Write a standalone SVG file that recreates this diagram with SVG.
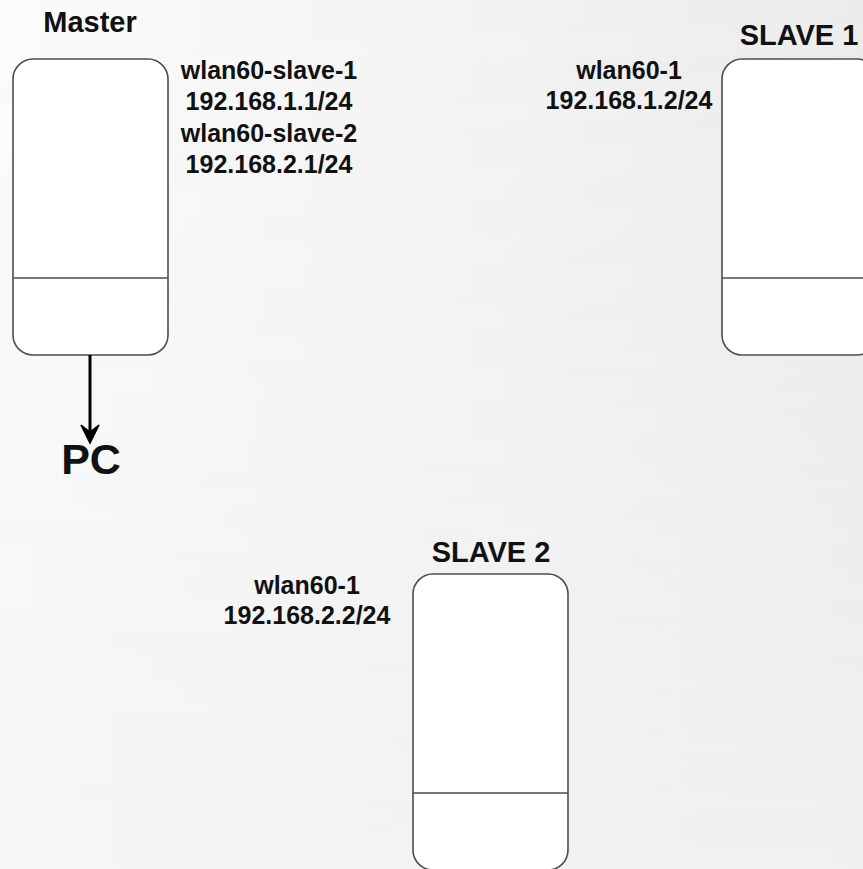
<svg xmlns="http://www.w3.org/2000/svg" width="863" height="869" viewBox="0 0 863 869">
<defs>
<linearGradient id="bgBottom" x1="0" y1="0" x2="1" y2="0">
<stop offset="0" stop-color="#f6f6f6"/>
<stop offset="1" stop-color="#f0f0f0"/>
</linearGradient>
<linearGradient id="bgTop" x1="0" y1="0" x2="1" y2="0">
<stop offset="0" stop-color="#fbfbfb"/>
<stop offset="1" stop-color="#ebebeb"/>
</linearGradient>
<linearGradient id="fade" x1="0" y1="0" x2="0" y2="1">
<stop offset="0" stop-color="#fff"/>
<stop offset="1" stop-color="#000"/>
</linearGradient>
<mask id="topMask">
<rect x="0" y="0" width="863" height="869" fill="url(#fade)"/>
</mask>
<style>
.box{fill:#ffffff;stroke:#4d4d4d;stroke-width:1.6}
.div{stroke:#4d4d4d;stroke-width:1.6}
.title{font-family:"Liberation Sans",Arial,sans-serif;font-weight:bold;font-size:29px;fill:#111;text-anchor:middle}
.lbl{font-family:"Liberation Sans",Arial,sans-serif;font-weight:bold;font-size:25px;fill:#111;text-anchor:middle}
.big{font-family:"Liberation Sans",Arial,sans-serif;font-weight:bold;font-size:43px;fill:#111;text-anchor:middle}
</style>
</defs>
<rect x="0" y="0" width="863" height="869" fill="url(#bgBottom)"/>
<rect x="0" y="0" width="863" height="869" fill="url(#bgTop)" mask="url(#topMask)"/>

<g id="master">
<rect class="box" x="13" y="59" width="155" height="296" rx="20" ry="20"/>
<line class="div" x1="13" y1="278" x2="168" y2="278"/>
<text class="title" x="90" y="32">Master</text>
<text class="lbl" x="269" y="79">wlan60-slave-1</text>
<text class="lbl" x="269" y="110">192.168.1.1/24</text>
<text class="lbl" x="269" y="142">wlan60-slave-2</text>
<text class="lbl" x="269" y="173">192.168.2.1/24</text>
</g>

<g id="slave1">
<rect class="box" x="722" y="59" width="155" height="296" rx="20" ry="20"/>
<line class="div" x1="722" y1="278" x2="877" y2="278"/>
<text class="title" x="799" y="45">SLAVE 1</text>
<text class="lbl" x="629" y="79">wlan60-1</text>
<text class="lbl" x="629" y="109">192.168.1.2/24</text>
</g>

<g id="slave2">
<rect class="box" x="413" y="574" width="155" height="296" rx="20" ry="20"/>
<line class="div" x1="413" y1="793" x2="568" y2="793"/>
<text class="title" x="491" y="562">SLAVE 2</text>
<text class="lbl" x="307" y="594">wlan60-1</text>
<text class="lbl" x="307" y="624">192.168.2.2/24</text>
</g>

<g id="pc">
<text class="big" x="91" y="474">PC</text>
</g>

<g id="connectors">
<line x1="90" y1="355" x2="90" y2="440" stroke="#000" stroke-width="3"/>
<path d="M81,425 L90,443 L99,425 L90,432 Z" fill="#000" stroke="#000" stroke-width="1.5" stroke-linejoin="miter"/>
</g>
</svg>
